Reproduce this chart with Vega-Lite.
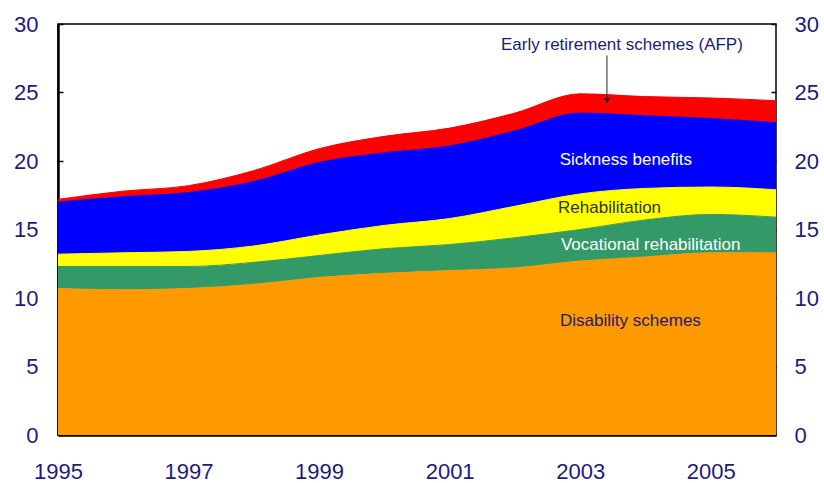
{
  "$schema": "https://vega.github.io/schema/vega-lite/v6.json",
  "width": 718,
  "height": 411,
  "autosize": "none",
  "padding": {"left": 58, "top": 24, "right": 48, "bottom": 48},
  "background": "white",
  "config": {
    "view": {"stroke": "black", "strokeWidth": 1.5},
    "font": "Liberation Sans",
    "axis": {"grid": false, "labelFont": "Liberation Sans", "labelFontSize": 22, "labelColor": "#1c1c7c", "domainColor": "black", "domainWidth": 2, "tickColor": "black", "tickSize": -5, "tickWidth": 1.5, "title": null, "labelFlush": false, "labelOverlap": false}
  },
  "datasets": {
    "series": [
      {"year": 1995, "series": "Disability schemes", "o": 1, "value": 10.7},
      {"year": 1996, "series": "Disability schemes", "o": 1, "value": 10.6},
      {"year": 1997, "series": "Disability schemes", "o": 1, "value": 10.7},
      {"year": 1998, "series": "Disability schemes", "o": 1, "value": 11.0},
      {"year": 1999, "series": "Disability schemes", "o": 1, "value": 11.5},
      {"year": 2000, "series": "Disability schemes", "o": 1, "value": 11.8},
      {"year": 2001, "series": "Disability schemes", "o": 1, "value": 12.0},
      {"year": 2002, "series": "Disability schemes", "o": 1, "value": 12.2},
      {"year": 2003, "series": "Disability schemes", "o": 1, "value": 12.7},
      {"year": 2004, "series": "Disability schemes", "o": 1, "value": 13.0},
      {"year": 2005, "series": "Disability schemes", "o": 1, "value": 13.3},
      {"year": 2006, "series": "Disability schemes", "o": 1, "value": 13.3},
      {"year": 1995, "series": "Vocational rehabilitation", "o": 2, "value": 1.6},
      {"year": 1996, "series": "Vocational rehabilitation", "o": 2, "value": 1.7},
      {"year": 1997, "series": "Vocational rehabilitation", "o": 2, "value": 1.6},
      {"year": 1998, "series": "Vocational rehabilitation", "o": 2, "value": 1.6},
      {"year": 1999, "series": "Vocational rehabilitation", "o": 2, "value": 1.6},
      {"year": 2000, "series": "Vocational rehabilitation", "o": 2, "value": 1.8},
      {"year": 2001, "series": "Vocational rehabilitation", "o": 2, "value": 1.9},
      {"year": 2002, "series": "Vocational rehabilitation", "o": 2, "value": 2.2},
      {"year": 2003, "series": "Vocational rehabilitation", "o": 2, "value": 2.3},
      {"year": 2004, "series": "Vocational rehabilitation", "o": 2, "value": 2.7},
      {"year": 2005, "series": "Vocational rehabilitation", "o": 2, "value": 2.8},
      {"year": 2006, "series": "Vocational rehabilitation", "o": 2, "value": 2.6},
      {"year": 1995, "series": "Rehabilitation", "o": 3, "value": 0.9},
      {"year": 1996, "series": "Rehabilitation", "o": 3, "value": 1.0},
      {"year": 1997, "series": "Rehabilitation", "o": 3, "value": 1.1},
      {"year": 1998, "series": "Rehabilitation", "o": 3, "value": 1.2},
      {"year": 1999, "series": "Rehabilitation", "o": 3, "value": 1.5},
      {"year": 2000, "series": "Rehabilitation", "o": 3, "value": 1.7},
      {"year": 2001, "series": "Rehabilitation", "o": 3, "value": 1.9},
      {"year": 2002, "series": "Rehabilitation", "o": 3, "value": 2.3},
      {"year": 2003, "series": "Rehabilitation", "o": 3, "value": 2.6},
      {"year": 2004, "series": "Rehabilitation", "o": 3, "value": 2.3},
      {"year": 2005, "series": "Rehabilitation", "o": 3, "value": 2.0},
      {"year": 2006, "series": "Rehabilitation", "o": 3, "value": 2.0},
      {"year": 1995, "series": "Sickness benefits", "o": 4, "value": 3.8},
      {"year": 1996, "series": "Sickness benefits", "o": 4, "value": 4.1},
      {"year": 1997, "series": "Sickness benefits", "o": 4, "value": 4.3},
      {"year": 1998, "series": "Sickness benefits", "o": 4, "value": 4.7},
      {"year": 1999, "series": "Sickness benefits", "o": 4, "value": 5.3},
      {"year": 2000, "series": "Sickness benefits", "o": 4, "value": 5.3},
      {"year": 2001, "series": "Sickness benefits", "o": 4, "value": 5.3},
      {"year": 2002, "series": "Sickness benefits", "o": 4, "value": 5.5},
      {"year": 2003, "series": "Sickness benefits", "o": 4, "value": 5.9},
      {"year": 2004, "series": "Sickness benefits", "o": 4, "value": 5.3},
      {"year": 2005, "series": "Sickness benefits", "o": 4, "value": 5.0},
      {"year": 2006, "series": "Sickness benefits", "o": 4, "value": 4.9},
      {"year": 1995, "series": "Early retirement schemes (AFP)", "o": 5, "value": 0.2},
      {"year": 1996, "series": "Early retirement schemes (AFP)", "o": 5, "value": 0.4},
      {"year": 1997, "series": "Early retirement schemes (AFP)", "o": 5, "value": 0.5},
      {"year": 1998, "series": "Early retirement schemes (AFP)", "o": 5, "value": 0.8},
      {"year": 1999, "series": "Early retirement schemes (AFP)", "o": 5, "value": 1.0},
      {"year": 2000, "series": "Early retirement schemes (AFP)", "o": 5, "value": 1.2},
      {"year": 2001, "series": "Early retirement schemes (AFP)", "o": 5, "value": 1.3},
      {"year": 2002, "series": "Early retirement schemes (AFP)", "o": 5, "value": 1.3},
      {"year": 2003, "series": "Early retirement schemes (AFP)", "o": 5, "value": 1.4},
      {"year": 2004, "series": "Early retirement schemes (AFP)", "o": 5, "value": 1.4},
      {"year": 2005, "series": "Early retirement schemes (AFP)", "o": 5, "value": 1.5},
      {"year": 2006, "series": "Early retirement schemes (AFP)", "o": 5, "value": 1.6}
    ],
    "labels": [
      {"label": "Early retirement schemes (AFP)", "year": 2003.64, "value": 28.5, "c": "navy"},
      {"label": "Sickness benefits", "year": 2003.7, "value": 20.1, "c": "white"},
      {"label": "Rehabilitation", "year": 2003.45, "value": 16.6, "c": "dark"},
      {"label": "Vocational rehabilitation", "year": 2004.08, "value": 13.9, "c": "white"},
      {"label": "Disability schemes", "year": 2003.77, "value": 8.3, "c": "navy"}
    ],
    "arrow": [
      {"year": 2003.41, "value": 27.7, "value2": 24.4}
    ]
  },
  "encoding": {
    "x": {"field": "year", "type": "quantitative", "scale": {"domain": [1995, 2006], "nice": false, "zero": false},
      "axis": {"values": [1995, 1997, 1999, 2001, 2003, 2005], "format": "d", "labelPadding": 31, "domainWidth": 2.5}}
  },
  "layer": [
    {
      "data": {"name": "series"},
      "mark": {"type": "area", "interpolate": "monotone", "opacity": 1, "line": {"color": "black", "strokeWidth": 1}},
      "encoding": {
        "y": {"field": "value", "type": "quantitative", "stack": "zero", "scale": {"domain": [0, 30], "nice": false},
          "axis": {"orient": "left", "values": [0, 5, 10, 15, 20, 25, 30], "labelPadding": 25, "domainWidth": 2.5}},
        "order": {"field": "o", "type": "quantitative"},
        "color": {"field": "series", "type": "nominal", "legend": null,
          "scale": {"domain": ["Disability schemes", "Vocational rehabilitation", "Rehabilitation", "Sickness benefits", "Early retirement schemes (AFP)"],
            "range": ["#FF9900", "#339966", "#FFFF00", "#0000FF", "#FF0000"]}}
      }
    },
    {
      "data": {"name": "arrow"},
      "mark": {"type": "rule", "color": "#222222", "strokeWidth": 1},
      "encoding": {
        "y": {"field": "value", "type": "quantitative", "axis": null},
        "y2": {"field": "value2"}
      }
    },
    {
      "data": {"name": "arrow"},
      "mark": {"type": "point", "shape": "triangle-down", "filled": true, "color": "#222222", "size": 40, "opacity": 1},
      "encoding": {
        "y": {"field": "value2", "type": "quantitative", "axis": null}
      }
    },
    {
      "data": {"name": "labels"},
      "mark": {"type": "text", "fontSize": 17, "font": "Liberation Sans", "align": "center", "baseline": "middle"},
      "encoding": {
        "y": {"field": "value", "type": "quantitative",
          "axis": {"orient": "right", "values": [0, 5, 10, 15, 20, 25, 30], "labelPadding": 23, "domain": false}},
        "text": {"field": "label"},
        "color": {"field": "c", "type": "nominal", "legend": null,
          "scale": {"domain": ["navy", "white", "dark"], "range": ["#1c1c78", "#ffffff", "#333300"]}}
      }
    }
  ],
  "resolve": {"axis": {"y": "independent"}, "scale": {"color": "independent"}}
}
